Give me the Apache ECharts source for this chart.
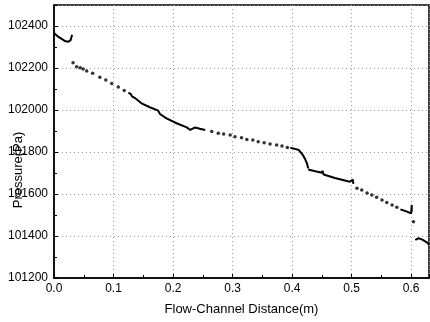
<!DOCTYPE html>
<html>
<head>
<meta charset="utf-8">
<script src="https://cdn.jsdelivr.net/npm/echarts@6/dist/echarts.min.js"></script>
<style>
html,body{margin:0;padding:0;background:#fff;}
#c{width:430px;height:322px;}
</style>
</head>
<body>
<div id="c"></div>
<script>
// Axis tick labels
const xTicks = [0.0, 0.1, 0.2, 0.3, 0.4, 0.5, 0.6];
const yTicks = [101200, 101400, 101600, 101800, 102000, 102200, 102400];

// Dense (solid-looking) stretches of the curve: [distance (m), pressure (Pa)]
const lineA = [[0.000,102367],[0.007,102349],[0.018,102329],[0.024,102325],[0.028,102333],[0.030,102354],[0.031,102357]];
const lineB = [[0.125,102083],[0.129,102076],[0.131,102065],[0.136,102057],[0.147,102032],[0.161,102013],[0.175,101997],[0.178,101981],[0.189,101960],[0.206,101937],[0.223,101917],[0.229,101905],[0.237,101917],[0.245,101911],[0.254,101905]];
const lineC = [[0.397,101821],[0.402,101817],[0.411,101810],[0.413,101802],[0.418,101786],[0.422,101765],[0.425,101746],[0.427,101722]];
const lineD = [[0.427,101717],[0.439,101708],[0.450,101701],[0.451,101711],[0.453,101693],[0.472,101676],[0.497,101658],[0.502,101669],[0.503,101648]];
const lineE = [[0.582,101527],[0.593,101516],[0.600,101508],[0.601,101548],[0.601,101515]];
const lineF = [[0.607,101381],[0.612,101389],[0.618,101384],[0.627,101368],[0.630,101360]];

// Sparse (dotted) stretches of the curve
const dotsA = [[0.032,102225],[0.038,102206],[0.044,102201],[0.049,102195],[0.055,102186],[0.065,102175],[0.077,102156],[0.087,102143],[0.097,102126],[0.108,102110],[0.118,102093]];
const dotsB = [[0.265,101898],[0.276,101889],[0.285,101886],[0.296,101881],[0.304,101873],[0.315,101868],[0.324,101860],[0.334,101857],[0.343,101849],[0.353,101844],[0.363,101838],[0.374,101833],[0.383,101829],[0.392,101822]];
const dotsC = [[0.509,101627],[0.517,101619],[0.526,101605],[0.534,101595],[0.542,101584],[0.551,101571],[0.559,101559],[0.568,101548],[0.576,101537],[0.604,101468]];

const FONT = '"Liberation Sans", Arial, sans-serif';
const chart = echarts.init(document.getElementById('c'), null, {renderer:'canvas'});

const lines = [lineA, lineB, lineC, lineD, lineE, lineF].map(d => ({
  type:'line', data:d, showSymbol:false, symbol:'none', silent:true,
  lineStyle:{color:'#000', width:2}, animation:false
}));
const dots = [dotsA, dotsB, dotsC].map(d => ({
  type:'scatter', data:d, symbolSize:3.5, silent:true,
  itemStyle:{color:'#000'}, animation:false
}));

chart.setOption({
  animation:false,
  backgroundColor:'#fff',
  grid:{left:54, right:1, top:5, bottom:44, show:true, borderColor:'#000', borderWidth:1.5, backgroundColor:'transparent'},
  xAxis:{
    type:'value', min:0, max:0.63, interval:0.1,
    name:'Flow-Channel Distance(m)', nameLocation:'middle', nameGap:25,
    nameTextStyle:{fontFamily:FONT, fontSize:13, color:'#000'},
    axisLine:{show:true, onZero:false, lineStyle:{color:'#000', width:1.5}},
    axisTick:{show:true, inside:true, length:4, lineStyle:{color:'#000'}},
    minorTick:{show:true, splitNumber:2, length:3, lineStyle:{color:'#000'}},
    axisLabel:{fontFamily:FONT, fontSize:12, color:'#000', margin:5, showMaxLabel:false,
      formatter:v => { const t = xTicks.find(k => Math.abs(k - v) < 1e-6); return t === undefined ? '' : t.toFixed(1); }},
    splitLine:{show:true, lineStyle:{color:'#999', type:[1,3], width:1}}
  },
  yAxis:{
    type:'value', min:101200, max:102500, interval:200,
    axisLine:{show:true, onZero:false, lineStyle:{color:'#000', width:1.5}},
    axisTick:{show:true, inside:true, length:4, lineStyle:{color:'#000'}},
    minorTick:{show:true, splitNumber:2, length:3, lineStyle:{color:'#000'}},
    axisLabel:{fontFamily:FONT, fontSize:12, color:'#000', margin:6, showMaxLabel:false,
      formatter:v => yTicks.indexOf(v) >= 0 ? String(v) : ''},
    splitLine:{show:true, lineStyle:{color:'#999', type:[1,3], width:1}}
  },
  graphic:[{
    type:'text', x:18, y:170, rotation:Math.PI/2,
    style:{text:'Pressure(Pa)', fontFamily:FONT, fontSize:13, fill:'#000', align:'center', verticalAlign:'middle'}
  }],
  series: lines.concat(dots)
});
</script>
</body>
</html>
